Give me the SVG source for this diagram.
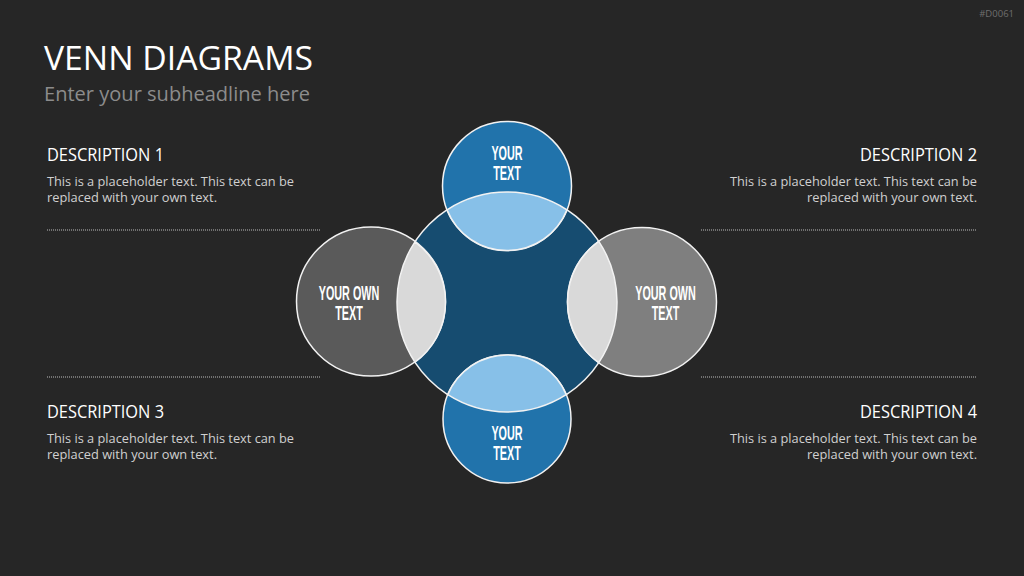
<svg xmlns="http://www.w3.org/2000/svg" width="1024" height="576" viewBox="0 0 1024 576">
<style>
.bg{fill:#262626}
.ring{stroke:#f2f2f2;stroke-width:1.5}
.title{font-family:"Open Sans","Liberation Sans",sans-serif;fill:#ffffff}
.sub{font-family:"Open Sans","Liberation Sans",sans-serif;fill:#8c8c8c}
.head{font-family:"Open Sans","Liberation Sans",sans-serif;font-size:17.5px;fill:#ffffff}
.body{font-family:"Open Sans","Liberation Sans",sans-serif;font-size:13.5px;fill:#d0d0d0}
.lbl{font-family:"Liberation Sans","DejaVu Sans",sans-serif;font-weight:bold;font-size:20px;fill:#ffffff;text-anchor:middle}
.dots{stroke:#8a8a8a;stroke-width:1.5;stroke-dasharray:1 1}
</style>
<rect class="bg" x="0" y="0" width="1024" height="576"/>
<text x="1014" y="17" font-family="Open Sans, Liberation Sans, sans-serif" font-size="9.5" fill="#6e6e6e" text-anchor="end">#D0061</text>
<text class="title" x="44" y="70" font-size="32.5" textLength="269" lengthAdjust="spacingAndGlyphs">VENN DIAGRAMS</text>
<text class="sub" x="44" y="101" font-size="20.5" textLength="266" lengthAdjust="spacingAndGlyphs">Enter your subheadline here</text>

<g id="desc1">
<text class="head" x="47" y="161" textLength="117" lengthAdjust="spacingAndGlyphs">DESCRIPTION 1</text>
<text class="body" x="47" y="186" textLength="247" lengthAdjust="spacingAndGlyphs">This is a placeholder text. This text can be</text>
<text class="body" x="47" y="202" textLength="170" lengthAdjust="spacingAndGlyphs">replaced with your own text.</text>
</g>
<g id="desc2" text-anchor="end">
<text class="head" x="977" y="161" textLength="117" lengthAdjust="spacingAndGlyphs">DESCRIPTION 2</text>
<text class="body" x="977" y="186" textLength="247" lengthAdjust="spacingAndGlyphs">This is a placeholder text. This text can be</text>
<text class="body" x="977" y="202" textLength="170" lengthAdjust="spacingAndGlyphs">replaced with your own text.</text>
</g>
<g id="desc3">
<text class="head" x="47" y="418" textLength="117" lengthAdjust="spacingAndGlyphs">DESCRIPTION 3</text>
<text class="body" x="47" y="443" textLength="247" lengthAdjust="spacingAndGlyphs">This is a placeholder text. This text can be</text>
<text class="body" x="47" y="459" textLength="170" lengthAdjust="spacingAndGlyphs">replaced with your own text.</text>
</g>
<g id="desc4" text-anchor="end">
<text class="head" x="977" y="418" textLength="117" lengthAdjust="spacingAndGlyphs">DESCRIPTION 4</text>
<text class="body" x="977" y="443" textLength="247" lengthAdjust="spacingAndGlyphs">This is a placeholder text. This text can be</text>
<text class="body" x="977" y="459" textLength="170" lengthAdjust="spacingAndGlyphs">replaced with your own text.</text>
</g>

<g id="dividers">
<line class="dots" x1="47" y1="230" x2="320" y2="230"/>
<line class="dots" x1="701" y1="230" x2="977" y2="230"/>
<line class="dots" x1="47" y1="377" x2="320" y2="377"/>
<line class="dots" x1="701" y1="377" x2="977" y2="377"/>
</g>

<g id="center">
<circle class="ring" cx="507" cy="302" r="110" fill="#164c70"/>
</g>
<g id="top">
<circle class="ring" cx="507" cy="186" r="64.5" fill="#2173ab"/>
<path class="ring" fill="#87c0e8" d="M447.04 209.78 A110 110 0 0 1 566.96 209.78 A64.5 64.5 0 0 1 447.04 209.78 Z"/>
<text class="lbl" transform="translate(507,159.5) scale(0.54,1)">YOUR</text>
<text class="lbl" transform="translate(507,180) scale(0.54,1)">TEXT</text>
</g>
<g id="bottom">
<circle class="ring" cx="507" cy="419" r="64" fill="#2173ab"/>
<path class="ring" fill="#87c0e8" d="M447.8 394.71 A64 64 0 0 1 566.2 394.71 A110 110 0 0 1 447.8 394.71 Z"/>
<text class="lbl" transform="translate(507,439.5) scale(0.54,1)">YOUR</text>
<text class="lbl" transform="translate(507,460) scale(0.54,1)">TEXT</text>
</g>
<g id="left">
<circle class="ring" cx="371" cy="301.5" r="74.5" fill="#5a5a5a"/>
<path class="ring" fill="#d9d9d9" d="M414.92 241.82 A74.5 74.5 0 0 1 414.92 362.18 A110 110 0 0 1 414.92 241.82 Z"/>
<text class="lbl" transform="translate(349,299.8) scale(0.54,1)">YOUR OWN</text>
<text class="lbl" transform="translate(349,320) scale(0.54,1)">TEXT</text>
</g>
<g id="right">
<circle class="ring" cx="642" cy="302" r="74.5" fill="#7f7f7f"/>
<path class="ring" fill="#d9d9d9" d="M598.76 241.34 A110 110 0 0 1 598.76 362.66 A74.5 74.5 0 0 1 598.76 241.34 Z"/>
<text class="lbl" transform="translate(665.5,299.8) scale(0.54,1)">YOUR OWN</text>
<text class="lbl" transform="translate(665.5,320) scale(0.54,1)">TEXT</text>
</g>
<g id="connectors"/>
</svg>
